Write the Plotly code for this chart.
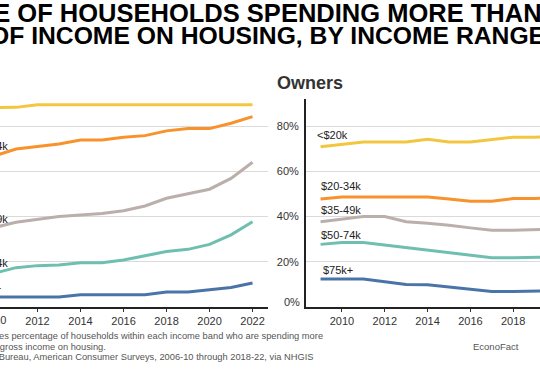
import plotly.graph_objects as go

# ---------------- data ----------------
years = list(range(2009, 2023))
series_names = ["<$20k", "$20-34k", "$35-49k", "$50-74k", "$75k+"]
colors = ["#F3C640", "#F7922C", "#BAAFAB", "#6FBFB1", "#4A74A8"]

renters_lt20 = [88.0, 88.3, 88.3, 89.5, 89.5, 89.5, 89.5, 89.5, 89.5, 89.5, 89.5, 89.5, 89.5, 89.5]
renters_20_34 = [65.0, 66.8, 69.9, 70.9, 72.1, 73.9, 73.9, 75.1, 75.8, 77.9, 78.9, 78.9, 81.3, 84.2]
renters_35_49 = [33.5, 35.2, 37.5, 38.9, 40.0, 40.7, 41.4, 42.6, 44.7, 48.1, 50.0, 52.1, 56.9, 64.0]
renters_50_74 = [13.5, 15.0, 17.4, 18.3, 18.6, 19.6, 19.6, 20.8, 22.7, 24.5, 25.5, 27.7, 31.9, 37.7]
renters_75 = [4.4, 4.4, 4.4, 4.4, 4.4, 5.4, 5.4, 5.4, 5.4, 6.6, 6.6, 7.6, 8.6, 10.6]

owners_lt20 = [70.9, 72.0, 73.0, 73.0, 73.0, 74.2, 73.0, 73.0, 74.2, 75.1, 75.1, 75.1, 75.5, 76.0]
owners_20_34 = [47.8, 48.7, 48.7, 48.7, 48.7, 48.7, 47.8, 46.8, 46.8, 48.0, 48.0, 48.0, 48.3, 48.6]
owners_35_49 = [37.7, 38.8, 40.0, 40.0, 37.7, 37.0, 36.2, 35.0, 34.0, 34.0, 34.0, 34.0, 34.3, 34.8]
owners_50_74 = [27.7, 28.5, 28.5, 27.4, 26.4, 25.3, 24.0, 22.8, 21.8, 21.8, 21.8, 21.8, 22.1, 22.6]
owners_75 = [12.4, 12.4, 12.4, 11.2, 10.0, 9.8, 8.8, 7.8, 6.9, 6.9, 6.9, 6.9, 7.1, 7.5]

renters = [renters_lt20, renters_20_34, renters_35_49, renters_50_74, renters_75]
owners = [owners_lt20, owners_20_34, owners_35_49, owners_50_74, owners_75]

y_tick_vals = [0, 20, 40, 60, 80]
y_tick_text = ["", "20%", "40%", "60%", "80%"]

title_line1 = "SHARE OF HOUSEHOLDS SPENDING MORE THAN"
title_line2 = "OF INCOME ON HOUSING, BY INCOME RANGE"
note_line1 = "Note: Chart indicates percentage of households within each income band who are spending more"
note_line2 = "than 30% of their gross income on housing."
note_line3 = "Source: Census Bureau, American Consumer Surveys, 2006-10 through 2018-22, via NHGIS"

# ---------------- layout helpers ----------------
W, H = 540, 370
TOP, BOT = 99, 307
FONT = "Arial, Liberation Sans, Helvetica, sans-serif"


def px_x(px):
    return px / W


def px_y(py):
    return (BOT - py) / (BOT - TOP)


fig = go.Figure()

for name, vals, col in zip(series_names, renters, colors):
    fig.add_trace(go.Scatter(x=years, y=vals, mode="lines", name=name,
                             line=dict(color=col, width=3), xaxis="x", yaxis="y",
                             showlegend=False, hoverinfo="skip"))
for name, vals, col in zip(series_names, owners, colors):
    fig.add_trace(go.Scatter(x=years, y=vals, mode="lines", name=name,
                             line=dict(color=col, width=3), xaxis="x2", yaxis="y2",
                             showlegend=False, hoverinfo="skip"))

annotations = []


def ann(text, x, y, xanchor="left", size=11, color="#222", bold=False):
    if bold:
        text = "<b>" + text + "</b>"
    annotations.append(dict(text=text, x=x, y=y, xref="paper", yref="paper",
                            xanchor=xanchor, yanchor="middle", showarrow=False,
                            font=dict(family=FONT, size=size, color=color)))


# title (cropped view)
ann(title_line1, px_x(544), px_y(12.5), xanchor="right", size=25.5, color="#000", bold=True)
ann(title_line2, px_x(546.5), px_y(35), xanchor="right", size=24.7, color="#000", bold=True)

# panel title
ann("Owners", px_x(275), px_y(83.5), size=18, color="#333", bold=True)

# left (renters) labels, cut off at left edge
left_label_pos = [(2, 119), (10, 146), (10, 219), (10, 263), (2.5, 288)]
for name, (ex, cy) in zip(series_names, left_label_pos):
    ann(name, px_x(ex), px_y(cy), xanchor="right")

# right (owners) labels
right_label_pos = [(315, 135), (319, 186), (319, 209.5), (318.5, 235), (321, 269.5)]
for name, (sx, cy) in zip(series_names, right_label_pos):
    ann(name, px_x(sx), px_y(cy), xanchor="left")

# 0% label (raised above axis) and cut-off 2010 tick of left panel
ann("0%", px_x(301.5), px_y(301.5), xanchor="right", size=11, color="#333")
ann("2010", px_x(-6), px_y(319.5), xanchor="center", size=11, color="#333")

# notes
ann(note_line1, px_x(324.5), px_y(336), xanchor="right", size=9.3, color="#555")
ann(note_line2, px_x(108), px_y(346.5), xanchor="right", size=9.3, color="#555")
ann(note_line3, px_x(315), px_y(357), xanchor="right", size=9.3, color="#555")
ann("EconoFact", px_x(495.5), px_y(346.5), xanchor="center", size=9.5, color="#555")

axis_common_x = dict(showgrid=False, zeroline=False, showline=True, linecolor="#222",
                     linewidth=2, ticks="outside", ticklen=3, tickwidth=1, tickcolor="#333",
                     tick0=2010, dtick=2, tickfont=dict(family=FONT, size=11, color="#333"),
                     fixedrange=True)

fig.update_layout(
    width=W, height=H,
    margin=dict(l=0, r=0, t=TOP, b=H - BOT, pad=0),
    paper_bgcolor="white", plot_bgcolor="white",
    showlegend=False,
    xaxis=dict(domain=[0, 268 / W], range=[2010.256, 2022.72], anchor="y", **axis_common_x),
    xaxis2=dict(domain=[306 / W, 1.0], range=[2008.32, 2019.25], anchor="y2", **axis_common_x),
    yaxis=dict(domain=[0, 1], range=[0, 92], anchor="x", showgrid=True, gridcolor="#DADADA",
               gridwidth=1, zeroline=False, showline=False, showticklabels=False,
               tickvals=y_tick_vals, fixedrange=True),
    yaxis2=dict(domain=[0, 1], range=[0, 92], anchor="x2", showgrid=True, gridcolor="#DADADA",
                gridwidth=1, zeroline=False, showline=True, linecolor="#222", linewidth=2,
                tickvals=y_tick_vals, ticktext=y_tick_text, ticks="",
                tickfont=dict(family=FONT, size=11, color="#333"), ticklabelstandoff=3,
                fixedrange=True),
    annotations=annotations,
)

fig.write_html(
    "out.html",
    config={"displayModeBar": False},
    post_script="document.body.style.margin='0px';document.body.style.padding='0px';"
                "document.body.style.overflow='hidden';",
)
